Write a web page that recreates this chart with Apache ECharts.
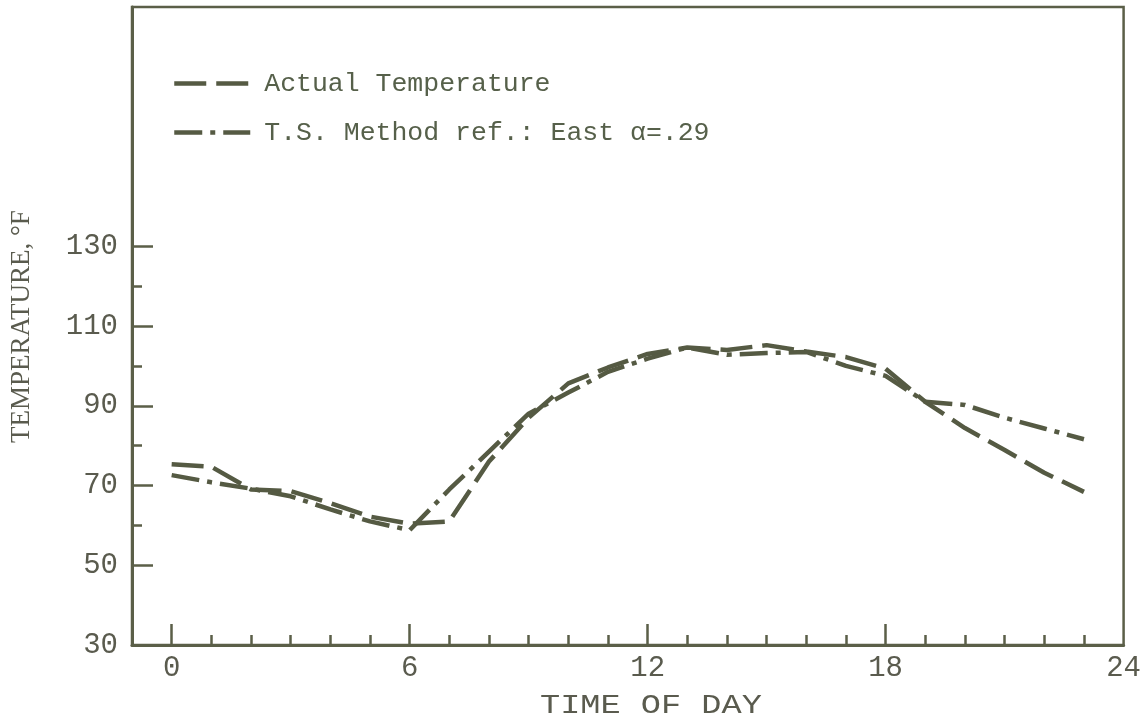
<!DOCTYPE html>
<html>
<head>
<meta charset="utf-8">
<script src="https://cdn.jsdelivr.net/npm/echarts@6/dist/echarts.min.js"></script>
<style>
html,body{margin:0;padding:0;background:#fff;}
#chart{width:1144px;height:721px;}
</style>
</head>
<body>
<div id="chart"></div>
<script>
// Data (hour of day, temperature °F)
var hours = [0,1,2,3,4,5,6,7,8,9,10,11,12,13,14,15,16,17,18,19,20,21,22,23];
var actualTemp = [75.3,74.7,69.0,68.6,65.6,62.2,60.4,61.0,76.0,87.0,95.6,99.6,103.0,104.6,104.0,105.2,103.6,102.2,99.3,91.0,84.4,78.9,73.2,68.4];
var tsMethod   = [72.6,70.8,69.2,67.3,64.0,61.0,58.8,69.0,78.5,88.0,93.3,98.5,101.8,104.6,102.8,103.2,103.5,100.0,97.5,91.0,90.2,87.0,84.3,81.6];
var xLabels = [0,6,12,18,24];
var xMajorTicks = [0,6,12,18];
var xMinorTicks = [1,2,3,4,5,7,8,9,10,11,13,14,15,16,17,19,20,21,22,23];
var yLabels = [30,50,70,90,110,130];
var yMajorTicks = [50,70,90,110,130];
var yMinorTicks = [60,80,100,120];
var seriesNames = ['Actual Temperature', 'T.S. Method ref.: East \u03b1=.29'];

var lineColor = '#555a43';
var axisColor = '#5b5f48';
var textColor = '#5a5b4e';
var FONT = 'Liberation Mono';

function pairs(ys){ return hours.map(function(h,i){ return [h, ys[i]]; }); }

var chart = echarts.init(document.getElementById('chart'), null, {renderer:'canvas'});

var gridBox = {left:132, right:16, top:7, bottom:76};

var option = {
  backgroundColor:'#ffffff',
  animation:false,
  grid: Object.assign({show:true, borderColor:axisColor, borderWidth:2.5, backgroundColor:'transparent'}, gridBox),
  legend:{
    orient:'vertical',
    left:172, top:70,
    padding:0,
    itemWidth:76, itemHeight:16,
    itemGap:22,
    data: seriesNames,
    textStyle:{fontFamily:FONT, fontSize:26.5, color:'#56604a', padding:[0,0,0,9]},
    itemStyle:{opacity:0, borderWidth:0},
    lineStyle:{width:4.5}
  },
  xAxis:[{
    type:'value', min:-1, max:24,
    splitLine:{show:false},
    axisLine:{show:true, onZero:false, lineStyle:{color:axisColor, width:3}},
    axisTick:{show:true, inside:true, length:21, customValues:xMajorTicks, lineStyle:{color:axisColor, width:2.5}},
    axisLabel:{customValues:xLabels, fontFamily:FONT, fontSize:29, color:textColor, margin:9}
  },{
    type:'value', min:-1, max:24, position:'bottom', offset:0,
    splitLine:{show:false},
    axisLine:{show:false, onZero:false},
    axisTick:{show:true, inside:true, length:10, customValues:xMinorTicks, lineStyle:{color:axisColor, width:2.5}},
    axisLabel:{show:false}
  }],
  yAxis:[{
    type:'value', min:30, max:190,
    splitLine:{show:false},
    axisLine:{show:true, onZero:false, lineStyle:{color:axisColor, width:3}},
    axisTick:{show:true, inside:true, length:21, customValues:yMajorTicks, lineStyle:{color:axisColor, width:2.5}},
    axisLabel:{customValues:yLabels, fontFamily:FONT, fontSize:29, color:textColor, margin:14}
  },{
    type:'value', min:30, max:190, position:'left', offset:0,
    splitLine:{show:false},
    axisLine:{show:false, onZero:false},
    axisTick:{show:true, inside:true, length:10, customValues:yMinorTicks, lineStyle:{color:axisColor, width:2.5}},
    axisLabel:{show:false}
  }],
  graphic:[
    {type:'text', x:540, y:706, scaleX:1.2, style:{text:'TIME OF DAY', font:'28px "Liberation Mono"', fill:textColor, align:'left', verticalAlign:'middle'}},
    {type:'text', x:22, y:443, rotation:Math.PI/2, style:{text:'TEMPERATURE, \u00b0F', font:'27px "Liberation Serif"', fill:textColor, align:'left', verticalAlign:'middle'}}
  ],
  series:[{
    name: seriesNames[0], type:'line', symbol:'none', xAxisIndex:0, yAxisIndex:0,
    data: pairs(actualTemp),
    lineStyle:{color:lineColor, width:4.5, type:[32,10], cap:'butt'},
    itemStyle:{color:lineColor}
  },{
    name: seriesNames[1], type:'line', symbol:'none', xAxisIndex:0, yAxisIndex:0,
    data: pairs(tsMethod),
    lineStyle:{color:lineColor, width:4.5, type:[28,8,5,8], cap:'butt'},
    itemStyle:{color:lineColor}
  }]
};
chart.setOption(option);
</script>
</body>
</html>
